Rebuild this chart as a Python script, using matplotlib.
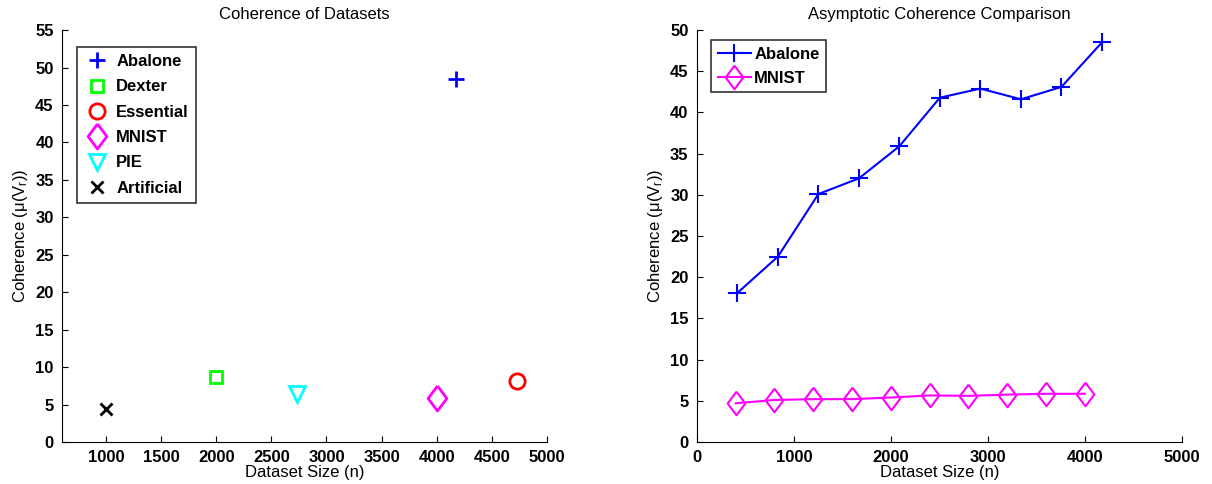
import matplotlib.pyplot as plt

plt.rcParams['font.family'] = ['Liberation Sans', 'DejaVu Sans']
plt.rcParams['mathtext.default'] = 'regular'

# left panel: one point per dataset
names = ['Abalone', 'Dexter', 'Essential', 'MNIST', 'PIE', 'Artificial']
sizes = [4177, 2000, 4730, 4000, 2736, 1000]
coherence = [48.5, 8.7, 8.2, 5.85, 6.45, 4.35]
colors = ['#0000ff', '#00ff00', '#ff0000', '#ff00ff', '#00ffff', '#000000']

# right panel: asymptotic coherence
abalone_n = [418, 835, 1253, 1671, 2088, 2506, 2924, 3342, 3759, 4177]
abalone_mu = [18.1, 22.5, 30.1, 32.0, 35.9, 41.8, 42.9, 41.6, 43.1, 48.5]
mnist_n = [400, 800, 1200, 1600, 2000, 2400, 2800, 3200, 3600, 4000]
mnist_mu = [4.7, 5.1, 5.2, 5.2, 5.4, 5.65, 5.6, 5.75, 5.85, 5.85]

ylabel = 'Coherence (\u03bc(V$_r$))'

# matlab-ish diamond, a bit narrower than tall
diamond = [(0, 1), (0.75, 0), (0, -1), (-0.75, 0), (0, 1)]
markers = ['+', 's', 'o', diamond, 'v', 'x']
msizes = [12, 9, 11, 18, 12, 8]


def style(ax):
    ax.spines['top'].set_visible(False)
    ax.spines['right'].set_visible(False)
    ax.tick_params(direction='in', length=4, labelsize=12, pad=6)
    for lab in ax.get_xticklabels() + ax.get_yticklabels():
        lab.set_fontweight('bold')
    ax.set_xlabel('Dataset Size (n)', fontsize=12, labelpad=0)
    ax.set_ylabel(ylabel, fontsize=12)


fig = plt.figure(figsize=(12.12, 4.84), dpi=100)
ax1 = fig.add_axes([0.0512, 0.0868, 0.4, 0.851])
ax2 = fig.add_axes([0.575, 0.0868, 0.4, 0.851])

for nm, x, y, c, m, s in zip(names, sizes, coherence, colors, markers, msizes):
    ax1.plot([x], [y], linestyle='none', marker=m, color=c, markersize=s,
             markerfacecolor='none', markeredgewidth=2, label=nm)
ax1.set_xlim(600, 5000)
ax1.set_ylim(0, 55)
ax1.set_xticks(range(1000, 5001, 500))
ax1.set_yticks(range(0, 56, 5))
style(ax1)
ax1.set_title('Coherence of Datasets', fontsize=12, pad=8)
leg1 = ax1.legend(loc='upper left', bbox_to_anchor=(0.031, 0.96), borderaxespad=0,
                  fancybox=False, edgecolor='black',
                  prop={'weight': 'bold', 'size': 12},
                  handletextpad=0.4, borderpad=0.45, labelspacing=0.62,
                  handlelength=1.5)
leg1.get_frame().set_linewidth(1.2)

ax2.plot(abalone_n, abalone_mu, color='#0000ff', marker='+', markersize=13,
         markeredgewidth=1.5, linewidth=1.5, label='Abalone')
ax2.plot(mnist_n, mnist_mu, color='#ff00ff', marker=diamond, markersize=17,
         markerfacecolor='none', markeredgewidth=1.5, linewidth=1.5, label='MNIST')
ax2.set_xlim(0, 5000)
ax2.set_ylim(0, 50)
ax2.set_xticks(range(0, 5001, 1000))
ax2.set_yticks(range(0, 51, 5))
style(ax2)
ax2.set_title('Asymptotic Coherence Comparison', fontsize=12, pad=8)
leg2 = ax2.legend(loc='upper left', bbox_to_anchor=(0.029, 0.976), borderaxespad=0,
                  fancybox=False, edgecolor='black',
                  prop={'weight': 'bold', 'size': 12},
                  handletextpad=0.2, borderpad=0.4, labelspacing=0.55,
                  handlelength=2.0)
leg2.get_frame().set_linewidth(1.2)

fig.savefig('out.png', dpi=100)
